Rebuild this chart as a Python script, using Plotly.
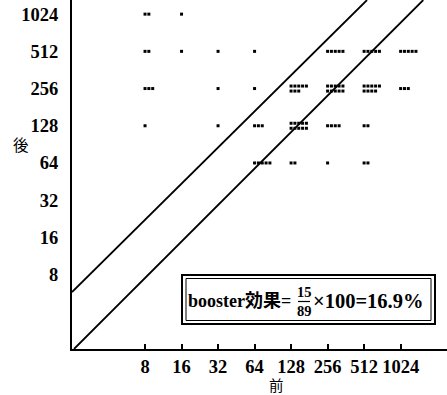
import math
import plotly.graph_objects as go

# Antibody titre before (前) and after (後) the booster, with number of subjects per pair
pre_titer = [8, 16,
             8, 16, 32, 64, 256, 512, 1024,
             8, 32, 64, 128, 256, 512, 1024,
             8, 32, 64, 128, 256, 512,
             64, 128, 256, 512]
post_titer = [1024, 1024,
              512, 512, 512, 512, 512, 512, 512,
              256, 256, 256, 256, 256, 256, 256,
              128, 128, 128, 128, 128, 128,
              64, 64, 64, 64]
n_subjects = [2, 1,
              2, 1, 1, 1, 5, 5, 5,
              3, 1, 1, 8, 10, 9, 3,
              1, 1, 3, 10, 4, 2,
              5, 2, 1, 2]

tick_values = [8, 16, 32, 64, 128, 256, 512, 1024]
tick_labels = [str(v) for v in tick_values]

boost_fold = 4  # a rise of at least this factor counts as a booster response

# Reference lines, as (log2 x0, log2 y0, log2 x1, log2 y1)
guide_lines = [
    (1.055, 1.0, 10.62, 10.38),
    (1.0, 2.53, 9.08, 10.38),
]

# Each subject is a dot; dots sharing a titre pair sit side by side in short rows
DOT_DX = 0.105
DOT_DY = 0.135
PER_ROW = 5
xs, ys = [], []
for pre, post, n in zip(pre_titer, post_titer, n_subjects):
    rows = (n + PER_ROW - 1) // PER_ROW
    for k in range(n):
        r, c = divmod(k, PER_ROW)
        xs.append(pre * 2 ** (c * DOT_DX))
        ys.append(post * 2 ** (((rows - 1) / 2 - r) * DOT_DY))

total = sum(n_subjects)
boosted = sum(n for pre, post, n in zip(pre_titer, post_titer, n_subjects)
              if post / pre >= boost_fold)
pct = boosted / total * 100

fig = go.Figure()
for x0, y0, x1, y1 in guide_lines:
    fig.add_trace(go.Scatter(x=[2 ** x0, 2 ** x1], y=[2 ** y0, 2 ** y1], mode="lines",
                             line=dict(color="black", width=1.8), hoverinfo="skip",
                             showlegend=False))
fig.add_trace(go.Scatter(x=xs, y=ys, mode="markers",
                         marker=dict(symbol="square", size=3, color="black"),
                         showlegend=False))

W, H = 447, 395
L, B = 72, 46
PW, PH = W - L, H - B


def px(x):
    return (x - L) / PW


def py(y):
    return (H - B - y) / PH


serif = "Liberation Serif, DejaVu Serif, Noto Sans CJK JP"
cjk = "Noto Sans CJK JP"
tick_font = dict(family=serif, size=18.5, color="black", weight="bold")

fig.update_layout(
    width=W, height=H,
    margin=dict(l=L, r=0, t=0, b=B),
    paper_bgcolor="white", plot_bgcolor="white",
    showlegend=False,
    xaxis=dict(type="log", range=[math.log10(2), 11.27 * math.log10(2)],
               tickvals=tick_values, ticktext=tick_labels,
               ticks="inside", ticklen=5, tickwidth=1.5, tickcolor="black",
               ticklabelstandoff=0,
               showline=True, linewidth=2, linecolor="black",
               showgrid=False, zeroline=False, tickfont=tick_font),
    yaxis=dict(type="log", range=[math.log10(2), 10.38 * math.log10(2)],
               tickvals=tick_values, ticktext=tick_labels,
               ticks="", ticklabelstandoff=8,
               showline=True, linewidth=2, linecolor="black",
               showgrid=False, zeroline=False, tickfont=tick_font),
)

# Axis titles
fig.add_annotation(text="前", xref="paper", yref="paper", x=px(276), y=py(396),
                   showarrow=False, font=dict(family=cjk, size=14.5, color="black"),
                   xanchor="center", yanchor="bottom", borderpad=0)
fig.add_annotation(text="後", xref="paper", yref="paper", x=px(21), y=py(144),
                   showarrow=False, font=dict(family=cjk, size=15.5, color="black"),
                   xanchor="center", yanchor="middle")

# Double-ruled result box
fig.add_shape(type="rect", xref="paper", yref="paper",
              x0=px(182), x1=px(435), y0=py(324), y1=py(275),
              line=dict(color="black", width=2), fillcolor="white", layer="above")
fig.add_shape(type="rect", xref="paper", yref="paper",
              x0=px(186), x1=px(431), y0=py(320.5), y1=py(278.5),
              line=dict(color="black", width=1), layer="above")

lead_font = dict(family=serif, size=18, color="black", weight="bold")
box_font = dict(family=serif, size=20.5, color="black", weight="bold")
frac_font = dict(family=serif, size=14.5, color="black", weight="bold")
fig.add_annotation(text="booster効果=", xref="paper", yref="paper", x=px(187), y=py(301),
                   showarrow=False, font=lead_font, xanchor="left", yanchor="middle",
                   borderpad=0)
fig.add_annotation(text=str(boosted), xref="paper", yref="paper", x=px(304), y=py(292),
                   showarrow=False, font=frac_font, xanchor="center", yanchor="middle",
                   borderpad=0)
fig.add_annotation(text=str(total), xref="paper", yref="paper", x=px(304), y=py(311),
                   showarrow=False, font=frac_font, xanchor="center", yanchor="middle",
                   borderpad=0)
fig.add_shape(type="line", xref="paper", yref="paper",
              x0=px(298), x1=px(310), y0=py(301.5), y1=py(301.5),
              line=dict(color="black", width=1.2), layer="above")
fig.add_annotation(text=f"×100={pct:.1f}%", xref="paper", yref="paper", x=px(312), y=py(301),
                   showarrow=False, font=box_font, xanchor="left", yanchor="middle",
                   borderpad=0)

fig.write_html("out.html")
